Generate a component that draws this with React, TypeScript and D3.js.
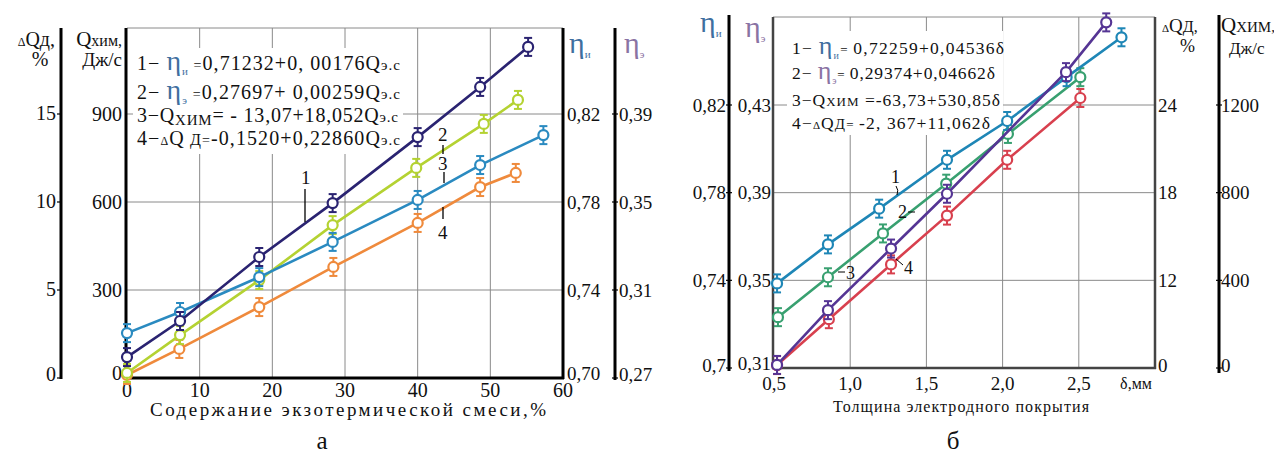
import React from 'react'
import * as d3 from 'd3'

const FONT = "'Times New Roman', 'Liberation Serif', Tinos, 'DejaVu Serif', serif"

// ---- панель а: содержание экзотермической смеси, %
const aXTicks = [0, 10, 20, 30, 40, 50, 60]
const aQhimTicks = [0, 300, 600, 900]
const aDQTicks = [0, 5, 10, 15]
const aEtaITicks = [0.7, 0.74, 0.78, 0.82]
const aEtaETicks = [0.27, 0.31, 0.35, 0.39]

const aEtaIX = [0, 7.3, 18.2, 28.3, 40, 48.6, 55.2]
const aEtaI = [0.7095, 0.7259, 0.755, 0.7795, 0.8095, 0.8323, 0.8505]
const aEtaEX = [0, 7.3, 18.2, 28.3, 39.8, 49.1, 53.8]
const aEtaE = [0.2723, 0.2895, 0.3145, 0.3395, 0.3655, 0.3855, 0.3964]
const aQhimX = [0, 7.3, 18.2, 28.3, 40, 48.6, 57.3]
const aQhim = [153, 225, 344, 464, 607, 726, 828]
const aDQX = [0, 7.2, 18.2, 28.4, 40, 48.6, 53.5]
const aDQ = [0.17, 1.65, 4.03, 6.31, 8.81, 10.85, 11.65]

// ---- панель б: толщина электродного покрытия, мм
const bXTicks = [0.5, 1.0, 1.5, 2.0, 2.5]
const bEtaITicks = [0.7, 0.74, 0.78, 0.82]
const bEtaETicks = [0.31, 0.35, 0.39, 0.43]
// шкала ΔQд на рисунке начинается с подписи «0», следующая — 12
const bDQTicks = [6, 12, 18, 24]
const bDQTickLabels = ['0', '12', '18', '24']
const bQhimTicks = [0, 400, 800, 1200]

const bEtaIX = [0.52, 0.854, 1.19, 1.635, 2.03, 2.42, 2.78]
const bEtaI = [0.7386, 0.7564, 0.7727, 0.795, 0.8127, 0.8327, 0.8509]
const bEtaEX = [0.52, 0.854, 1.268, 1.635, 2.416, 2.68]
const bEtaE = [0.3114, 0.3364, 0.3645, 0.3895, 0.445, 0.4677]
const bQhimX = [0.526, 0.854, 1.215, 1.63, 2.035, 2.51]
const bQhim = [232, 414, 614, 841, 1068, 1327]
const bDQX = [0.52, 0.86, 1.268, 1.635, 2.03, 2.51]
const bDQ = [6.2, 9.34, 13.09, 16.43, 20.25, 24.48]

const comma = (f: (n: number) => string) => (n: number) => f(n).replace('.', ',')

const Series = ({ xs, ys, x, y, color }: any) => {
  const pts: [number, number][] = xs.map((v: number, i: number) => [x(v), y(ys[i])])
  return (
    <g>
      <path d={d3.line()(pts) || ''} fill="none" stroke={color} strokeWidth={2.6} />
      {pts.map(([px, py], i) => (
        <g key={i} stroke={color} strokeWidth={2}>
          <line x1={px} x2={px} y1={py - 9} y2={py + 9} />
          <line x1={px - 4} x2={px + 4} y1={py - 9} y2={py - 9} />
          <line x1={px - 4} x2={px + 4} y1={py + 9} y2={py + 9} />
          <circle cx={px} cy={py} r={5} fill="white" strokeWidth={2.2} />
        </g>
      ))}
    </g>
  )
}

const PanelA = () => {
  const x = d3.scaleLinear().domain([0, 60]).range([127, 563])
  const yQ = d3.scaleLinear().domain([0, 900]).range([378, 114])
  const yDQ = d3.scaleLinear().domain([0, 15]).range([378, 114])
  const yI = d3.scaleLinear().domain([0.7, 0.82]).range([378, 114])
  const yE = d3.scaleLinear().domain([0.27, 0.39]).range([378, 114])
  const f2 = comma(d3.format('.2f'))
  const etaI = '#3f6f9f'
  const etaE = '#8a73a3'
  return (
    <g style={{ fontFamily: FONT }} fill="#111">
      {/* grid */}
      <g stroke="#8a8a8a" strokeWidth={1}>
        {aXTicks.slice(1, -1).map((t) => (
          <line key={t} x1={x(t)} x2={x(t)} y1={28} y2={378} />
        ))}
        {aQhimTicks.slice(1).map((t) => (
          <line key={t} x1={127} x2={563} y1={yQ(t)} y2={yQ(t)} />
        ))}
        <line x1={127} x2={563} y1={28} y2={28} />
      </g>
      <rect x={133} y={48} width={270} height={106} fill="white" />

      {/* axes */}
      <g stroke="#000" strokeWidth={3}>
        <line x1={61} x2={61} y1={28} y2={379} />
        <line x1={126} x2={126} y1={28} y2={379} />
        <line x1={125} x2={564} y1={378} y2={378} />
        <line x1={563} x2={563} y1={28} y2={379} />
        <line x1={615} x2={615} y1={28} y2={380} />
      </g>
      <g stroke="#000" strokeWidth={1.2}>
        {aDQTicks.map((t) => <line key={t} x1={57} x2={61} y1={yDQ(t)} y2={yDQ(t)} />)}
        {aEtaETicks.map((t) => <line key={t} x1={612} x2={618} y1={yE(t)} y2={yE(t)} />)}
      </g>
      <g fontSize={20} textAnchor="end">
        {aDQTicks.map((t) => (
          <text key={t} x={56} y={yDQ(t) - (t === 0 ? 4 : 1)} dominantBaseline="central">{t}</text>
        ))}
        {aQhimTicks.map((t) => (
          <text key={t} x={122} y={yQ(t) - (t === 0 ? 5 : 0)} dominantBaseline="central">{t}</text>
        ))}
      </g>
      <g fontSize={19}>
        {aEtaITicks.map((t) => (
          <text key={t} x={567} y={yI(t) - (t === 0.7 ? 5 : 0)} dominantBaseline="central">{f2(t)}</text>
        ))}
        {aEtaETicks.map((t) => (
          <text key={t} x={619} y={yE(t) - (t === 0.27 ? 4 : 0)} dominantBaseline="central">{f2(t)}</text>
        ))}
      </g>
      <g fontSize={20} textAnchor="middle">
        {aXTicks.map((t) => (
          <text key={t} x={x(t)} y={397}>{t}</text>
        ))}
      </g>
      <text x={348} y={416} fontSize={19} textAnchor="middle" textLength={396} lengthAdjust="spacing">
        Содержание экзотермической смеси,%
      </text>
      <text x={322} y={449} fontSize={25} textAnchor="middle">а</text>

      {/* axis titles */}
      <text x={55} y={46} textAnchor="end" fontSize={20}>
        <tspan fontSize={12}>Δ</tspan>Qд,
      </text>
      <text x={40} y={66} textAnchor="middle" fontSize={20}>%</text>
      <text x={122} y={46} textAnchor="end" fontSize={21}>
        Q<tspan fontSize={16}>хим,</tspan>
      </text>
      <text x={122} y={66} textAnchor="end" fontSize={19}>Дж/с</text>
      <text x={569} y={53} fontSize={30} fill={etaI}>
        η<tspan fontSize={11} dy={5}>и</tspan>
      </text>
      <text x={624} y={53} fontSize={30} fill={etaE}>
        η<tspan fontSize={11} dy={5}>э</tspan>
      </text>

      {/* equations */}
      <g fontSize={20}>
        <text x={137} y={70} textLength={263} lengthAdjust="spacing">
          1− <tspan fontSize={28} fill={etaI}>η</tspan>
          <tspan fontSize={11} fill={etaI} dy={5}>и</tspan>
          <tspan fontSize={14} dy={-5}> =</tspan>0,71232+0, 00176Q<tspan fontSize={15}>э.с</tspan>
        </text>
        <text x={137} y={99} textLength={263} lengthAdjust="spacing">
          2− <tspan fontSize={28} fill={etaI}>η</tspan>
          <tspan fontSize={11} fill={etaI} dy={5}>э</tspan>
          <tspan fontSize={14} dy={-5}> =</tspan>0,27697+ 0,00259Q<tspan fontSize={15}>э.с</tspan>
        </text>
        <text x={137} y={122} textLength={261} lengthAdjust="spacing">
          3−Q<tspan fontSize={15} dy={3}>ХИМ</tspan>
          <tspan dy={-3}>= - 13,07+18,052Q</tspan>
          <tspan fontSize={15}>э.с</tspan>
        </text>
        <text x={137} y={145} textLength={263} lengthAdjust="spacing">
          4−<tspan fontSize={12}>Δ</tspan>Q<tspan fontSize={16}> Д</tspan>
          <tspan fontSize={14}>=</tspan>-0,1520+0,22860Q<tspan fontSize={15}>э.с</tspan>
        </text>
      </g>

      <Series xs={aDQX} ys={aDQ} x={x} y={yDQ} color="#ef8a3c" />
      <Series xs={aEtaEX} ys={aEtaE} x={x} y={yE} color="#b4d232" />
      <Series xs={aQhimX} ys={aQhim} x={x} y={yQ} color="#2a8ac0" />
      <Series xs={aEtaIX} ys={aEtaI} x={x} y={yI} color="#2a2371" />

      {/* curve labels */}
      <g stroke="#000" strokeWidth={1.3}>
        <line x1={305} x2={305} y1={189} y2={222} />
        <line x1={443} x2={443} y1={145} y2={154} />
        <line x1={444} x2={444} y1={172} y2={183} />
        <line x1={443} x2={443} y1={207} y2={219} />
      </g>
      <g fontSize={19}>
        <text x={301} y={184}>1</text>
        <text x={438} y={141}>2</text>
        <text x={438} y={170}>3</text>
        <text x={438} y={239}>4</text>
      </g>
    </g>
  )
}

const PanelB = () => {
  const x = d3.scaleLinear().domain([0.5, 3.0]).range([774, 1155])
  const yI = d3.scaleLinear().domain([0.7, 0.82]).range([368, 105])
  const yE = d3.scaleLinear().domain([0.31, 0.43]).range([368, 105])
  const yDQ = d3.scaleLinear().domain([6, 24]).range([368, 105])
  const yQ = d3.scaleLinear().domain([0, 1200]).range([368, 105])
  const fI = comma(d3.format(''))
  const f1 = comma(d3.format('.1f'))
  const etaI = '#3f6f9f'
  const etaE = '#8a73a3'
  return (
    <g style={{ fontFamily: FONT }} fill="#111">
      <g stroke="#8a8a8a" strokeWidth={1}>
        {bXTicks.slice(1).map((t) => (
          <line key={t} x1={x(t)} x2={x(t)} y1={17} y2={368} />
        ))}
        {bDQTicks.slice(1).map((t) => (
          <line key={t} x1={773} x2={1155} y1={yDQ(t)} y2={yDQ(t)} />
        ))}
        <line x1={773} x2={1155} y1={17} y2={17} />
      </g>
      <rect x={787} y={31} width={216} height={104} fill="white" />

      <g stroke="#000" strokeWidth={3}>
        <line x1={729} x2={729} y1={15} y2={371} />
        <line x1={1219} x2={1219} y1={15} y2={373} />
      </g>
      <g stroke="#444" strokeWidth={2.5}>
        <line x1={773} x2={773} y1={17} y2={369} />
        <line x1={772} x2={1156} y1={368} y2={368} />
        <line x1={1155} x2={1155} y1={17} y2={369} />
      </g>
      <g stroke="#000" strokeWidth={1.2}>
        {bEtaITicks.map((t) => <line key={t} x1={726} x2={732} y1={yI(t)} y2={yI(t)} />)}
        {bQhimTicks.map((t) => <line key={t} x1={1216} x2={1222} y1={yQ(t)} y2={yQ(t)} />)}
      </g>
      <g fontSize={19} textAnchor="end">
        {bEtaITicks.map((t) => (
          <text key={t} x={726} y={yI(t) - (t === 0.7 ? 3 : 0)} dominantBaseline="central">{fI(t)}</text>
        ))}
        {bEtaETicks.map((t) => (
          <text key={t} x={771} y={yE(t) - (t === 0.31 ? 5 : 0)} dominantBaseline="central">{fI(t)}</text>
        ))}
      </g>
      <g fontSize={19}>
        {bDQTicks.map((t, i) => (
          <text key={t} x={1158} y={yDQ(t) - (i === 0 ? 3 : 0)} dominantBaseline="central">
            {bDQTickLabels[i]}
          </text>
        ))}
        {bQhimTicks.map((t) => (
          <text key={t} x={1221} y={yQ(t) - (t === 0 ? 3 : 0)} dominantBaseline="central">{t}</text>
        ))}
      </g>
      <g fontSize={19} textAnchor="middle">
        {bXTicks.map((t) => (
          <text key={t} x={x(t)} y={390}>{f1(t)}</text>
        ))}
      </g>
      <text x={1136} y={389} fontSize={16} textAnchor="middle">δ,мм</text>
      <text x={961} y={412} fontSize={16} textAnchor="middle" textLength={256} lengthAdjust="spacing">
        Толщина электродного покрытия
      </text>
      <text x={953} y={449} fontSize={25} textAnchor="middle">б</text>

      <text x={700} y={32} fontSize={30} fill={etaI}>
        η<tspan fontSize={11} dy={5}>и</tspan>
      </text>
      <text x={745} y={37} fontSize={30} fill={etaE}>
        η<tspan fontSize={11} dy={5}>э</tspan>
      </text>
      <text x={1162} y={32} fontSize={19}>
        <tspan fontSize={11}>Δ</tspan>Q<tspan fontSize={16}>Д,</tspan>
      </text>
      <text x={1180} y={52} fontSize={18}>%</text>
      <text x={1221} y={32} fontSize={21}>
        Q<tspan fontSize={15}>ХИМ,</tspan>
      </text>
      <text x={1229} y={54} fontSize={17}>Дж/с</text>

      <g fontSize={17.5}>
        <text x={792} y={54} textLength={212} lengthAdjust="spacing">
          1− <tspan fontSize={26} fill={etaI}>η</tspan>
          <tspan fontSize={10} fill={etaI} dy={5}>и</tspan>
          <tspan fontSize={13} dy={-5}>= </tspan>0,72259+0,04536δ
        </text>
        <text x={792} y={79} textLength={203} lengthAdjust="spacing">
          2− <tspan fontSize={26} fill={etaE}>η</tspan>
          <tspan fontSize={10} fill={etaE} dy={5}>э</tspan>
          <tspan fontSize={13} dy={-5}>= </tspan>0,29374+0,04662δ
        </text>
        <text x={792} y={106} textLength={208} lengthAdjust="spacing">
          3−Q<tspan fontSize={13}>ХИМ</tspan> =-63,73+530,85δ
        </text>
        <text x={792} y={129} textLength={198} lengthAdjust="spacing">
          4−<tspan fontSize={11}>Δ</tspan>Q<tspan fontSize={15}>Д</tspan>
          <tspan fontSize={13}>= </tspan>-2, 367+11,062δ
        </text>
      </g>

      <Series xs={bDQX} ys={bDQ} x={x} y={yDQ} color="#d8404e" />
      <Series xs={bQhimX} ys={bQhim} x={x} y={yQ} color="#38a070" />
      <Series xs={bEtaIX} ys={bEtaI} x={x} y={yI} color="#1e86b6" />
      <Series xs={bEtaEX} ys={bEtaE} x={x} y={yE} color="#553594" />

      <g stroke="#000" strokeWidth={1}>
        <path d="M896,186 Q899,190 897,195" fill="none" />
        <line x1={908} x2={915} y1={212} y2={212} />
        <line x1={838} x2={845} y1={272} y2={272} />
        <line x1={896} x2={903} y1={259} y2={265} />
      </g>
      <g fontSize={18}>
        <text x={891} y={183}>1</text>
        <text x={898} y={218}>2</text>
        <text x={846} y={279}>3</text>
        <text x={904} y={274}>4</text>
      </g>
    </g>
  )
}

const App = () => (
  <svg
    width={1274}
    height={457}
    style={{ position: 'absolute', left: 0, top: 0, background: 'white' }}
  >
    <rect width={1274} height={457} fill="white" />
    <PanelA />
    <PanelB />
  </svg>
)

export default App
